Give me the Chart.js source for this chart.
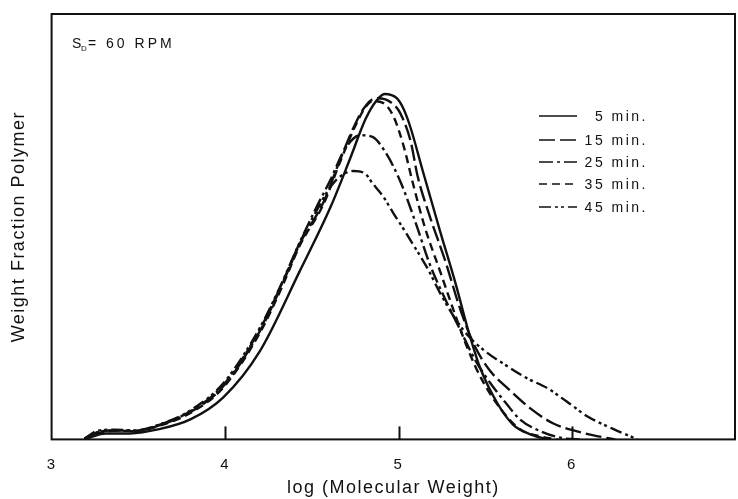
<html>
<head>
  <script src="https://cdn.jsdelivr.net/npm/chart.js@4/dist/chart.umd.min.js"></script>
  <style>
    body { margin: 0; background: #fff; }
  </style>
</head>
<body>
  <canvas id="mwd" width="738" height="499"></canvas>
  <script>
    // series: log(MW) and weight fraction
    const seriesNames = ['5 min.', '15 min.', '25 min.', '35 min.', '45 min.'];

    const x5 = [3.19, 3.31, 3.45, 3.62, 3.80, 3.99, 4.20, 4.43, 4.61, 4.72, 4.81, 4.87, 4.92, 4.99, 5.03, 5.07, 5.14, 5.24, 5.33, 5.40, 5.47, 5.57, 5.66, 5.76, 5.86];
    const y5 = [0.000, 0.014, 0.014, 0.024, 0.047, 0.099, 0.207, 0.395, 0.548, 0.659, 0.753, 0.795, 0.812, 0.802, 0.776, 0.732, 0.631, 0.489, 0.365, 0.259, 0.169, 0.085, 0.035, 0.012, 0.000];

    const x15 = [3.19, 3.28, 3.36, 3.48, 3.62, 3.80, 3.99, 4.20, 4.33, 4.43, 4.57, 4.66, 4.75, 4.81, 4.87, 4.92, 4.98, 5.01, 5.07, 5.11, 5.18, 5.27, 5.36, 5.44, 5.53, 5.63, 5.76, 5.89, 6.03, 6.18, 6.25];
    const y15 = [0.002, 0.019, 0.021, 0.019, 0.033, 0.064, 0.125, 0.254, 0.365, 0.459, 0.560, 0.654, 0.741, 0.784, 0.802, 0.800, 0.784, 0.767, 0.701, 0.619, 0.525, 0.419, 0.301, 0.219, 0.160, 0.120, 0.073, 0.038, 0.019, 0.005, 0.000];

    const x25 = [3.19, 3.28, 3.37, 3.48, 3.62, 3.80, 3.99, 4.20, 4.33, 4.43, 4.52, 4.61, 4.69, 4.78, 4.85, 4.92, 5.01, 5.10, 5.18, 5.27, 5.36, 5.44, 5.53, 5.62, 5.70, 5.82, 5.96, 6.05];
    const y25 = [0.002, 0.018, 0.021, 0.020, 0.034, 0.066, 0.128, 0.258, 0.368, 0.462, 0.540, 0.612, 0.682, 0.715, 0.711, 0.678, 0.607, 0.508, 0.412, 0.329, 0.254, 0.188, 0.132, 0.085, 0.047, 0.019, 0.002, 0.000];

    const x35 = [3.19, 3.29, 3.37, 3.48, 3.62, 3.80, 3.99, 4.20, 4.33, 4.43, 4.57, 4.66, 4.75, 4.81, 4.85, 4.91, 4.97, 5.03, 5.08, 5.15, 5.24, 5.33, 5.40, 5.48, 5.59, 5.70, 5.82, 5.92];
    const y35 = [0.002, 0.017, 0.020, 0.020, 0.032, 0.062, 0.122, 0.250, 0.360, 0.455, 0.555, 0.649, 0.736, 0.781, 0.795, 0.791, 0.760, 0.689, 0.607, 0.501, 0.395, 0.289, 0.212, 0.141, 0.071, 0.024, 0.007, 0.000];

    const x45 = [3.19, 3.27, 3.36, 3.48, 3.62, 3.80, 3.99, 4.20, 4.33, 4.43, 4.52, 4.61, 4.67, 4.74, 4.81, 4.85, 4.91, 4.97, 5.03, 5.08, 5.17, 5.24, 5.33, 5.41, 5.50, 5.62, 5.74, 5.86, 5.97, 6.09, 6.24, 6.35, 6.38];
    const y45 = [0.002, 0.021, 0.023, 0.021, 0.035, 0.068, 0.132, 0.262, 0.370, 0.462, 0.532, 0.595, 0.620, 0.631, 0.624, 0.602, 0.572, 0.532, 0.494, 0.461, 0.400, 0.344, 0.282, 0.240, 0.207, 0.174, 0.144, 0.120, 0.089, 0.054, 0.024, 0.005, 0.000];

    const xTickLabels = [3, 4, 5, 6];
    const innerTicks = [4, 5, 6];

    const dashes = [[], [16, 5], [14, 4, 3, 4], [8, 5], [12, 4, 3, 3, 3, 4]];
    const xs = [x5, x15, x25, x35, x45];
    const ys = [y5, y15, y25, y35, y45];

    const ink = '#111';
    const fontFam = '"Liberation Sans", Arial, Helvetica, sans-serif';

    function pts(xa, ya) {
      return xa.map((v, i) => ({ x: v, y: ya[i] }));
    }

    const datasets = seriesNames.map((name, i) => ({
      label: name,
      data: pts(xs[i], ys[i]),
      borderColor: ink,
      borderWidth: 2.4,
      borderDash: dashes[i],
      pointRadius: 0,
      showLine: true,
      fill: false,
      cubicInterpolationMode: 'monotone'
    }));

    // wide tracking like the scanned lettering
    const spacing = {
      id: 'spacing',
      beforeDraw(chart) {
        chart.ctx.letterSpacing = '1.5px';
      }
    };

    // frame, inner ticks, legend and the S_D note
    const decor = {
      id: 'decor',
      afterDraw(chart) {
        const ctx = chart.ctx;
        const a = chart.chartArea;
        const xs = chart.scales.x;
        ctx.save();
        ctx.strokeStyle = ink;
        ctx.lineWidth = 2;
        ctx.setLineDash([]);
        ctx.strokeRect(a.left, a.top, a.right - a.left, a.bottom - a.top);

        innerTicks.forEach(v => {
          const px = Math.round(xs.getPixelForValue(v)) + 0.5;
          ctx.beginPath();
          ctx.moveTo(px, a.bottom);
          ctx.lineTo(px, a.bottom - 13);
          ctx.stroke();
        });

        // legend
        ctx.letterSpacing = '2.5px';
        ctx.font = '14px ' + fontFam;
        ctx.fillStyle = ink;
        ctx.textAlign = 'right';
        ctx.textBaseline = 'middle';
        const rows = [116, 140, 162, 184, 207];
        chart.data.datasets.forEach((ds, i) => {
          ctx.setLineDash(ds.borderDash);
          ctx.lineWidth = 1.6;
          ctx.beginPath();
          ctx.moveTo(539, rows[i]);
          ctx.lineTo(577, rows[i]);
          ctx.stroke();
          ctx.setLineDash([]);
          ctx.fillText(ds.label, 648, rows[i] + 1);
        });

        // S_D = 60 RPM
        ctx.letterSpacing = '2.5px';
        ctx.textAlign = 'left';
        ctx.textBaseline = 'alphabetic';
        ctx.font = '14px ' + fontFam;
        ctx.fillText('S', 72, 48);
        ctx.font = '8px ' + fontFam;
        ctx.letterSpacing = '0px';
        ctx.fillText('D', 81, 51);
        ctx.letterSpacing = '3px';
        ctx.font = '14px ' + fontFam;
        ctx.fillText('= 60 RPM', 88, 48);
        ctx.restore();
      }
    };

    new Chart(document.getElementById('mwd'), {
      type: 'scatter',
      data: { datasets: datasets },
      options: {
        responsive: false,
        animation: false,
        layout: { padding: { left: 8, right: 3, top: 14, bottom: 0 } },
        plugins: { legend: { display: false }, tooltip: { enabled: false } },
        scales: {
          x: {
            type: 'linear',
            min: 3,
            max: 6.94,
            afterBuildTicks(scale) {
              scale.ticks = xTickLabels.map(v => ({ value: v }));
            },
            grid: { display: false, drawTicks: false },
            border: { display: false },
            ticks: {
              padding: 16,
              color: ink,
              font: { family: fontFam, size: 15 },
              callback: v => String(v)
            },
            title: {
              display: true,
              text: 'log (Molecular Weight)',
              color: ink,
              font: { family: fontFam, size: 18 },
              padding: { top: -12, bottom: 0 }
            }
          },
          y: {
            min: 0,
            max: 1,
            grid: { display: false, drawTicks: false },
            border: { display: false },
            ticks: { display: false },
            title: {
              display: true,
              text: 'Weight Fraction Polymer',
              color: ink,
              font: { family: fontFam, size: 18 },
              padding: { top: 0, bottom: 22 }
            }
          }
        }
      },
      plugins: [spacing, decor]
    });
  </script>
</body>
</html>
